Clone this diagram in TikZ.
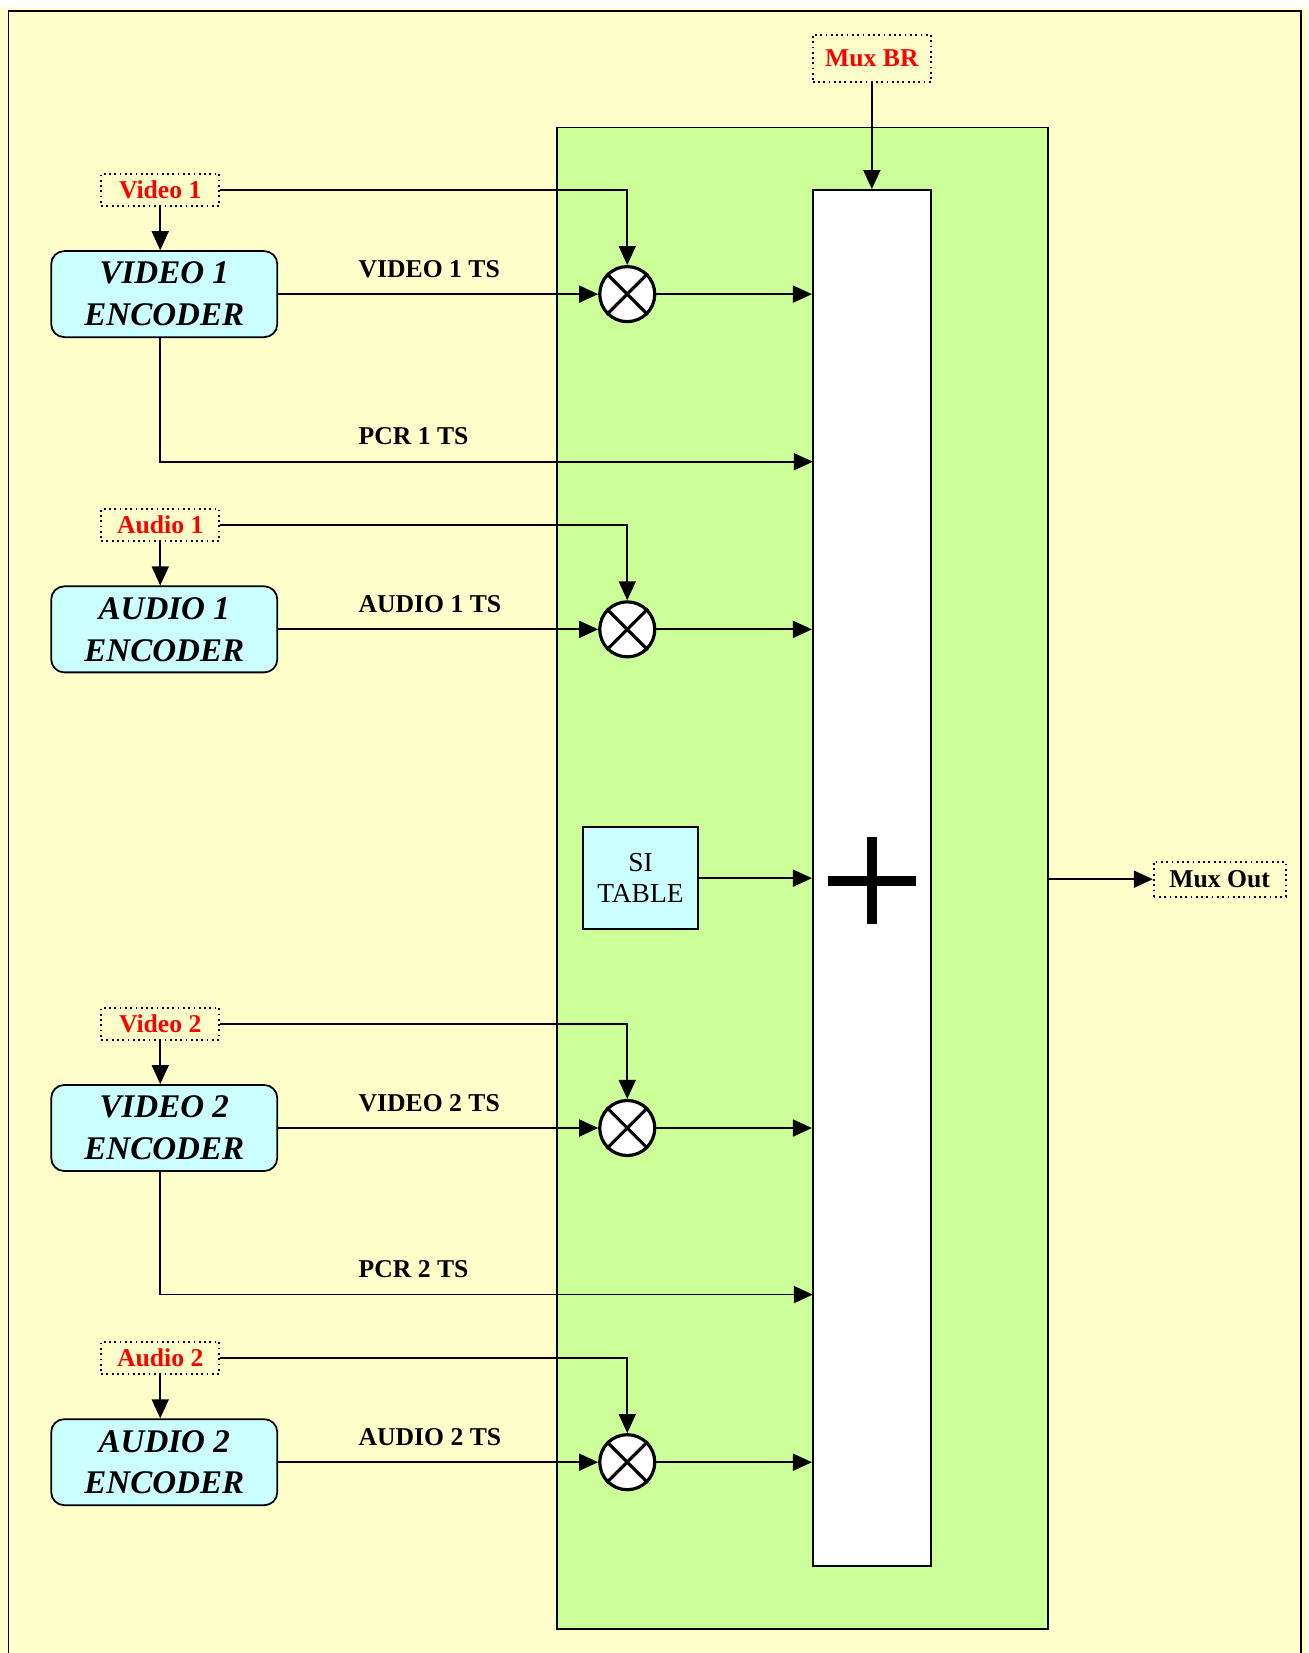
\documentclass[tikz,border=0pt]{standalone}
\usepackage{fontspec}
\setmainfont{Liberation Serif}
\usetikzlibrary{arrows.meta,positioning}
\definecolor{bgyellow}{RGB}{255,255,204}
\definecolor{muxgreen}{RGB}{204,255,153}
\definecolor{enccyan}{RGB}{204,255,255}

\tikzset{
  encbox/.style={draw,line width=0.5pt,rounded corners=1.3mm,fill=enccyan,
    minimum width=22.6mm,minimum height=8.6mm,align=center,
    font=\bfseries\itshape\fontsize{9.4}{11.9}\selectfont},
  srcbox/.style={draw,densely dotted,line width=0.5pt,minimum width=11.8mm,
    minimum height=3.2mm,text=red,font=\bfseries\fontsize{7.3}{9}\selectfont},
  outbox/.style={draw,densely dotted,line width=0.5pt,minimum width=13.2mm,
    minimum height=3.5mm,font=\bfseries\fontsize{7.3}{9}\selectfont},
  mulnode/.style={draw,circle,fill=white,line width=0.9pt,minimum size=5.5mm},
  tslabel/.style={anchor=base west,font=\bfseries\fontsize{7.3}{9}\selectfont},
  wire/.style={line width=0.5pt}
}

\begin{document}
\begin{tikzpicture}[x=0.1054mm,y=-0.1054mm,>={Triangle[length=1.9mm,width=1.7mm]},
    every node/.style={inner sep=0pt}]
  \useasboundingbox (0,0) rectangle (1241,1568);
  % background and frame
  \fill[white] (0,0) rectangle (1241,1568);
  \fill[bgyellow] (0,7.6) rectangle (1241,1568);
  \draw[wire] (8,1568) -- (8,10.4) -- (1234,10.4) -- (1234,1568);
  % multiplexer block
  \node[draw,line width=0.5pt,fill=muxgreen,minimum width=49.1mm,minimum height=150.1mm]
    (muxbox) at (761,833) {};
  \node[draw,line width=0.5pt,fill=white,minimum width=11.8mm,minimum height=137.6mm]
    (adder) at (827,833) {};
  \draw[line width=3pt] ([xshift=-4.4mm,yshift=-0.3mm]adder.center) -- ([xshift=4.4mm,yshift=-0.3mm]adder.center);
  \draw[line width=3pt] ([yshift=4.1mm]adder.center) -- ([yshift=-4.6mm]adder.center);
  % bit rate and output
  \node[srcbox,minimum height=4.74mm] (muxbr) at (827,55.5) {Mux BR};
  \draw[wire,->] (muxbr.south) -- (adder.north);
  \node[outbox] (muxout) at (1157,834) {Mux Out};
  \draw[wire,->] (muxout -| muxbox.east) -- (muxout.west);
  % SI table
  \node[draw,line width=0.5pt,fill=enccyan,minimum width=11.5mm,minimum height=10.2mm,
    align=center,font=\fontsize{7.8}{8.8}\selectfont] (si) at (607.5,833) {SI\\TABLE};
  \draw[wire,->] (si.east) -- (si -| adder.west);
  % channels
  \foreach \i/\y/\src/\enc/\ts in {1/279/Video 1/VIDEO 1/VIDEO 1 TS,
                                   2/597/Audio 1/AUDIO 1/AUDIO 1 TS,
                                   3/1070/Video 2/VIDEO 2/VIDEO 2 TS,
                                   4/1387/Audio 2/AUDIO 2/AUDIO 2 TS} {
    \node[encbox] (enc\i) at (155.8,\y) {\enc\\ENCODER};
    \node[srcbox] (src\i) at (152,\y-99) {\src};
    \node[mulnode] (mul\i) at (595,\y) {};
    \draw[line width=0.9pt] (mul\i.north west) -- (mul\i.south east)
      (mul\i.north east) -- (mul\i.south west);
    \draw[wire,->] (src\i.south) -- (src\i |- enc\i.north);
    \draw[wire,->] (src\i.east) -| (mul\i.north);
    \draw[wire,->] (enc\i.east) -- (mul\i.west);
    \draw[wire,->] (mul\i.east) -- (mul\i -| adder.west);
    \node[tslabel] (ts\i) at (339.5,\y-16) {\ts};
  }
  % PCR streams
  \foreach \i/\y/\n in {1/438/1, 3/1228/2} {
    \coordinate (pcr\n) at (771,\y);
    \draw[wire,->] (src\i |- enc\i.south) |- (pcr\n);
    \node[tslabel] (pcrlab\n) at (339.5,\y-16) {PCR \n\ TS};
  }
\end{tikzpicture}
\end{document}
